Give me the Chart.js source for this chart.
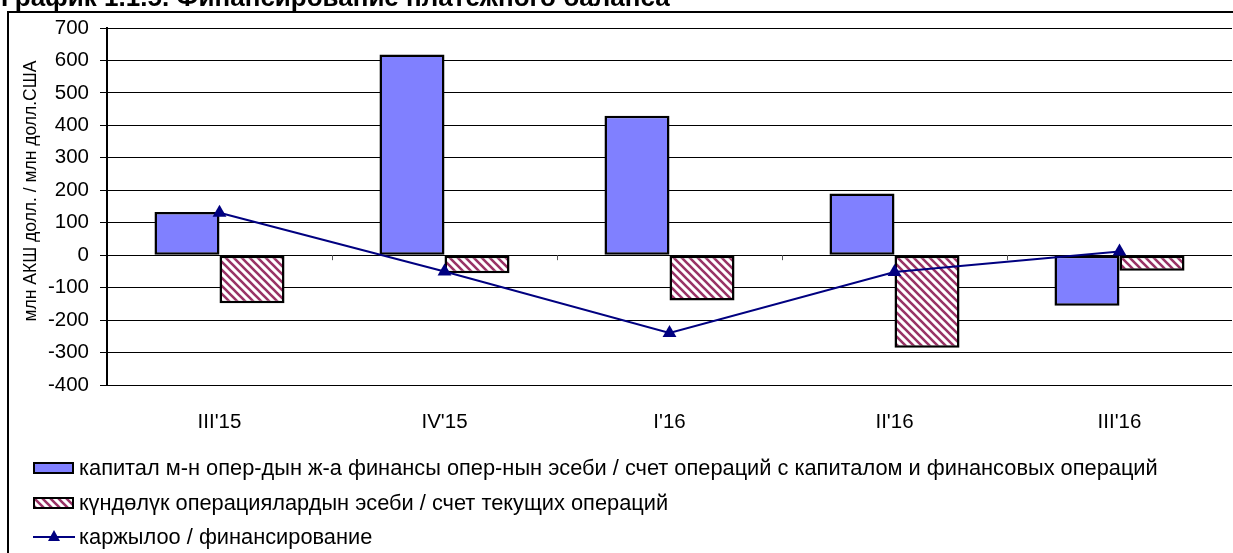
<!DOCTYPE html>
<html>
<head>
<meta charset="utf-8">
<script src="https://cdn.jsdelivr.net/npm/chart.js@4/dist/chart.umd.min.js"></script>
<style>
html,body{margin:0;padding:0;background:#fff;overflow:hidden;}
canvas{display:block;}
</style>
</head>
<body>
<canvas id="c" width="1233" height="553"></canvas>
<script>
const titleText = "График 1.1.5. Финансирование платежного баланса";
const yAxisTitle = "млн АКШ долл. / млн долл.США";
const categories = ["III'15", "IV'15", "I'16", "II'16", "III'16"];
const capitalLabel = "капитал м-н опер-дын ж-а финансы опер-нын эсеби / счет операций с капиталом и финансовых операций";
const currentLabel = "күндөлүк операциялардын эсеби / счет текущих операций";
const financingLabel = "каржылоо / финансирование";
const capitalAccount = [133, 618, 430, 190, -156];
const currentAccount = [-148, -56, -140, -285, -48];
const financing = [131, -50, -240, -52, 11];
const yMin = -400, yMax = 700, yStep = 100;

const FONT = "'Liberation Sans', Arial, sans-serif";

function makeHatch() {
  const s = 8;
  const p = document.createElement('canvas');
  p.width = s; p.height = s;
  const g = p.getContext('2d');
  g.fillStyle = '#ffffff';
  g.fillRect(0, 0, s, s);
  g.strokeStyle = '#993366';
  g.lineWidth = 2.6;
  g.beginPath();
  for (let k = -1; k <= 1; k++) {
    g.moveTo(k * s - 1, -1);
    g.lineTo(k * s + s + 1, s + 1);
  }
  g.stroke();
  return g.createPattern(p, 'repeat');
}
const hatch = makeHatch();

const decor = {
  id: 'decor',
  beforeDraw(chart) {
    const c = chart.ctx;
    c.save();
    c.fillStyle = '#fff';
    c.fillRect(0, 0, chart.width, chart.height);
    c.strokeStyle = '#000';
    c.lineWidth = 2;
    c.strokeRect(8, 12, 1400, 800);
    c.fillStyle = '#000';
    c.font = "bold 26px " + FONT;
    c.textBaseline = 'alphabetic';
    c.textAlign = 'left';
    c.fillText(titleText, 1, 6);
    c.translate(31, 191);
    c.rotate(-Math.PI / 2);
    c.font = "17.5px " + FONT;
    c.textAlign = 'center';
    c.textBaseline = 'middle';
    c.fillText(yAxisTitle, 0, 0);
    c.restore();
  },
  afterDatasetsDraw(chart) {
    const c = chart.ctx;
    const x = chart.scales.x, y = chart.scales.y;
    const y0 = y.getPixelForValue(0);
    c.save();
    c.strokeStyle = '#555';
    c.lineWidth = 1;
    c.beginPath();
    for (let i = 1; i < categories.length; i++) {
      const px = Math.round((x.getPixelForValue(i - 1) + x.getPixelForValue(i)) / 2) + 0.5;
      c.moveTo(px, y0);
      c.lineTo(px, y0 + 5);
    }
    c.stroke();
    c.restore();
  },
  afterDraw(chart) {
    const c = chart.ctx;
    const ds = chart.data.datasets;
    c.save();
    c.font = "21.8px " + FONT;
    c.textBaseline = 'middle';
    c.textAlign = 'left';
    const rows = [468, 503, 537];
    const order = [1, 2, 0];
    order.forEach((di, r) => {
      const d = ds[di];
      const cy = rows[r];
      if (d.type === 'line') {
        c.strokeStyle = d.borderColor;
        c.lineWidth = 2;
        c.beginPath();
        c.moveTo(33, cy); c.lineTo(75, cy);
        c.stroke();
        c.fillStyle = d.borderColor;
        c.beginPath();
        c.moveTo(54, cy - 7); c.lineTo(60, cy + 4); c.lineTo(48, cy + 4);
        c.closePath(); c.fill();
      } else {
        c.fillStyle = d.backgroundColor;
        c.fillRect(34, cy - 5, 39, 10);
        c.strokeStyle = '#000';
        c.lineWidth = 2;
        c.strokeRect(34, cy - 5, 39, 10);
      }
      c.fillStyle = '#000';
      c.fillText(d.label, 79, cy + 1);
    });
    c.restore();
  }
};

new Chart(document.getElementById('c'), {
  type: 'bar',
  data: {
    labels: categories,
    datasets: [
      {
        type: 'line',
        label: financingLabel,
        data: financing,
        borderColor: '#000080',
        backgroundColor: '#000080',
        borderWidth: 2,
        pointStyle: 'triangle',
        pointRadius: 8,
        pointBorderWidth: 0,
        tension: 0,
        order: 0
      },
      {
        label: capitalLabel,
        data: capitalAccount,
        backgroundColor: '#8080FF',
        borderColor: '#000',
        borderWidth: 2.5,
        borderSkipped: false,
        order: 1
      },
      {
        label: currentLabel,
        data: currentAccount,
        backgroundColor: hatch,
        borderColor: '#000',
        borderWidth: 2.5,
        borderSkipped: false,
        order: 1
      }
    ]
  },
  options: {
    responsive: false,
    animation: false,
    devicePixelRatio: 1,
    barPercentage: 1,
    categoryPercentage: 0.578,
    layout: { autoPadding: false, padding: { left: 0, right: 1, top: 28, bottom: 108 } },
    plugins: {
      legend: { display: false },
      tooltip: { enabled: false },
      title: { display: false }
    },
    scales: {
      x: {
        grid: { display: false },
        border: { display: false },
        ticks: { color: '#000', font: { family: FONT, size: 20.5 }, padding: 17 },
        afterFit(s) { s.height = 60; s.paddingLeft = 0; s.paddingRight = 0; }
      },
      y: {
        min: yMin,
        max: yMax,
        ticks: { stepSize: yStep, color: '#000', font: { family: FONT, size: 20.5 }, padding: 11 },
        grid: { color: '#000', lineWidth: 1, tickLength: 7, drawTicks: true },
        border: { display: true, color: '#000', width: 2 },
        afterFit(s) { s.width = 107; }
      }
    }
  },
  plugins: [decor]
});
</script>
</body>
</html>
